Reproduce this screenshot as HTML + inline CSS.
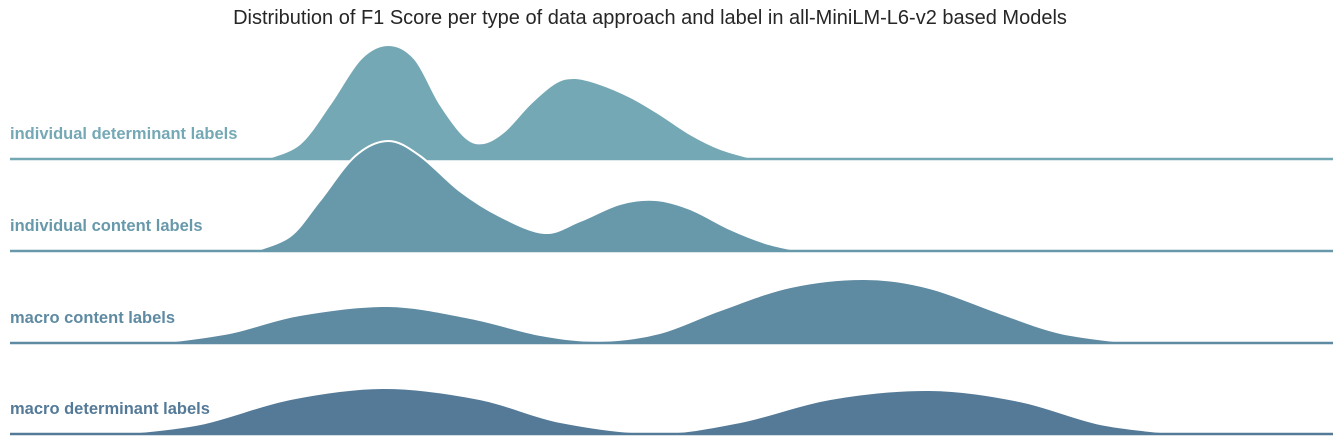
<!DOCTYPE html>
<html><head><meta charset="utf-8"><style>
html,body{margin:0;padding:0;background:#fff;}
svg{display:block;font-family:"Liberation Sans",sans-serif;}
</style></head><body>
<svg id="chart" width="1341" height="444" viewBox="0 0 1341 444">
<text x="650" y="24" text-anchor="middle" font-size="20" fill="#262626">Distribution of F1 Score per type of data approach and label in all-MiniLM-L6-v2 based Models</text>
<g id="rows"></g>
</svg>
<script>
const categories = ["individual determinant labels","individual content labels","macro content labels","macro determinant labels"];
const row1X = [0.193,0.219,0.242,0.265,0.286,0.306,0.325,0.344,0.358,0.374,0.393,0.412,0.427,0.446,0.469,0.491,0.514,0.537,0.563];
const row1D = [0,0.75,2.75,5,5.7,5,2.75,1.1,0.8,1.4,2.75,3.8,4.05,3.75,3.1,2.25,1.25,0.5,0];
const row2X = [0.185,0.212,0.234,0.261,0.286,0.310,0.340,0.370,0.404,0.431,0.461,0.488,0.514,0.544,0.571,0.597];
const row2D = [0,0.75,2.5,4.75,5.5,4.75,3,1.75,0.9,1.5,2.35,2.55,2.1,1.1,0.4,0];
const row3X = [0.113,0.166,0.219,0.286,0.348,0.401,0.446,0.491,0.537,0.590,0.646,0.695,0.748,0.794,0.847];
const row3D = [0,0.5,1.4,1.85,1.25,0.4,0.1,0.5,1.65,2.8,3.2,2.75,1.5,0.5,0];
const row4X = [0.083,0.144,0.212,0.283,0.355,0.416,0.488,0.552,0.620,0.695,0.763,0.824,0.884];
const row4D = [0,0.5,1.75,2.3,1.75,0.6,0.05,0.6,1.75,2.2,1.65,0.5,0];

const seriesX=[row1X,row2X,row3X,row4X], seriesD=[row1D,row2D,row3D,row4D];
const colors=["#75a8b5","#6899ab","#5e8aa2","#547a98"];
const baselines=[159,251,343,434];
const x0=10,x1=1333, pxPerUnit=20;
const xScale=v=>x0+v*(x1-x0);
const NS="http://www.w3.org/2000/svg";
const g=document.getElementById('rows');

function curve(pts){
  let d=`M${pts[0][0]},${pts[0][1]}`;
  for(let i=0;i<pts.length-1;i++){
    const p0=pts[Math.max(i-1,0)],p1=pts[i],p2=pts[i+1],p3=pts[Math.min(i+2,pts.length-1)];
    const c1=[p1[0]+(p2[0]-p0[0])/6,p1[1]+(p2[1]-p0[1])/6];
    const c2=[p2[0]-(p3[0]-p1[0])/6,p2[1]-(p3[1]-p1[1])/6];
    d+=`C${c1[0]},${c1[1]} ${c2[0]},${c2[1]} ${p2[0]},${p2[1]}`;
  }
  return d;
}

categories.forEach((cat,i)=>{
  const b=baselines[i];
  const pts=seriesX[i].map((v,k)=>[xScale(v),b-seriesD[i][k]*pxPerUnit]);
  const clip=document.createElementNS(NS,'clipPath');clip.setAttribute('id','c'+i);
  const cr=document.createElementNS(NS,'rect');cr.setAttribute('x',0);cr.setAttribute('y',0);cr.setAttribute('width',1341);cr.setAttribute('height',b);
  clip.appendChild(cr);g.appendChild(clip);
  const p=document.createElementNS(NS,'path');
  p.setAttribute('d',curve(pts)+`L${pts[pts.length-1][0]},${b+2}L${pts[0][0]},${b+2}Z`);
  p.setAttribute('fill',colors[i]);p.setAttribute('stroke','#fff');p.setAttribute('stroke-width','2');
  p.setAttribute('clip-path',`url(#c${i})`);
  
  
  g.appendChild(p);
  const l=document.createElementNS(NS,'line');
  l.setAttribute('x1',x0);l.setAttribute('x2',x1);l.setAttribute('y1',b);l.setAttribute('y2',b);
  l.setAttribute('stroke',colors[i]);l.setAttribute('stroke-width','2.5');
  
  
  g.appendChild(l);
  const t=document.createElementNS(NS,'text');
  t.setAttribute('x',10);t.setAttribute('y',b-20);t.setAttribute('font-size','16.5');t.setAttribute('font-weight','bold');t.setAttribute('fill',colors[i]);
  t.textContent=cat;
  
  
  g.appendChild(t);
});
</script>
</body></html>
